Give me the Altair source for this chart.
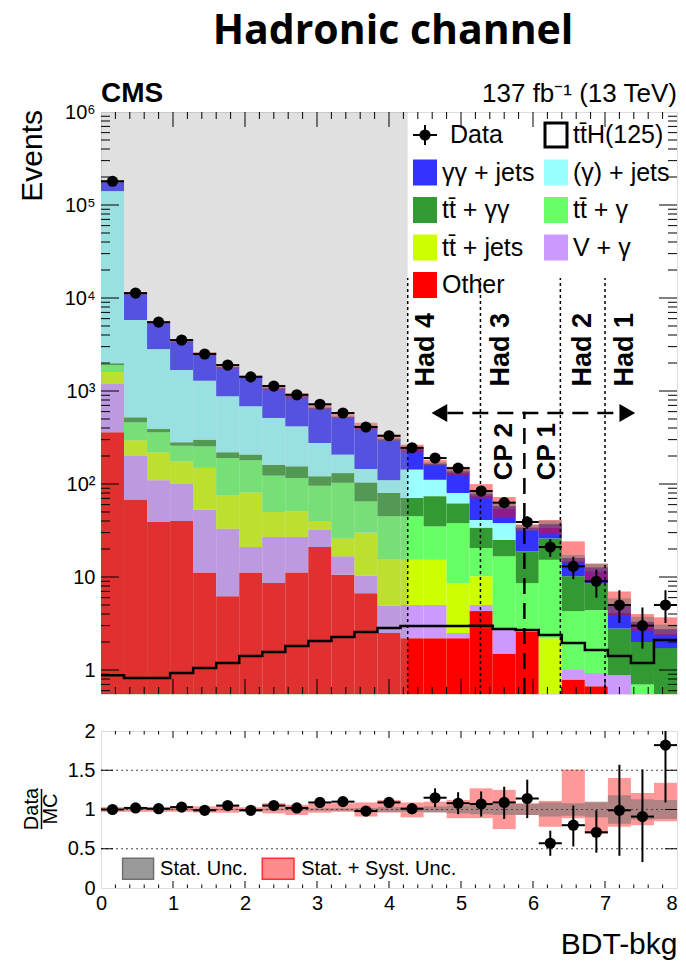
import altair as alt
import pandas as pd

# ---------------- data ----------------
bin_edges = [0.0, 0.32, 0.64, 0.96, 1.28, 1.6, 1.92, 2.24, 2.56, 2.88, 3.2, 3.52, 3.84,
             4.16, 4.48, 4.8, 5.12, 5.44, 5.76, 6.08, 6.4, 6.72, 7.04, 7.36, 7.68, 8.0]

data_events = [180000, 11300, 5500, 3530, 2500, 1900, 1420, 1130, 910, 720, 580, 410, 330,
               245, 190, 148, 84, 63, 39, 21, 13, 9, 5, 3, 5]
data_lo = [179600, 11200, 5430, 3470, 2450, 1856, 1382, 1096, 880, 693, 556, 390, 312,
           230, 176, 136, 75, 55, 33, 16.5, 9.5, 6, 3.2, 1.7, 3.2]
data_hi = [180400, 11400, 5570, 3590, 2550, 1944, 1458, 1164, 940, 747, 604, 430, 348,
           260, 204, 160, 93, 71, 45, 25.5, 16.5, 12, 7.2, 4.7, 7.2]

# background components (stacked bottom -> top)
bkg_other = [360, 68, 39, 40, 11.2, 6.2, 11.2, 8.6, 11.2, 21, 10.6, 6.7, 2.5,
             2.2, 2.2, 2.2, 4.3, 1.5, 2.6, 0, 0.79, 0.67, 0, 0, 0]
bkg_vgamma = [830, 134, 71, 60, 41.8, 26.8, 9.8, 18.4, 15.8, 11, 6.1, 3.6, 2.4,
              2.8, 2.8, 0.3, 0.7, 1.2, 0, 0, 0.21, 0.26, 0.88, 0, 0]
bkg_ttjets = [410, 93, 109, 75, 96, 42, 60, 23, 24, 8, 9.3, 19.7, 10.7,
              10.3, 10.3, 6.1, 5.2, 0, 0, 2.2, 0, 0, 0, 0, 0]
bkg_ttgamma = [300, 165, 141, 83, 105, 115, 99, 73, 65, 56, 77, 35, 29.4,
               29.7, 19.7, 29.4, 10.3, 14, 6.0, 13.1, 3.3, 3.47, 0, 0.70, 0]
bkg_ttgg = [90, 61, 30, 23, 46, 29, 27, 38, 39, 25, 28, 39, 35,
            26, 39, 24, 13.5, 8.3, 10.3, 10.7, 5.9, 4.2, 1.92, 1.3, 1.72]
bkg_gjets = [139000, 5280, 2430, 1400, 990, 658, 477, 352, 262, 155, 76, 41, 30,
             72, 37, 18, 7, 13, 0, 0, 0, 0, 0, 0, 0]
bkg_ggjets = [39000, 5300, 2630, 1750, 1235, 933, 750, 563, 475, 384, 320, 273, 193,
              100, 54, 57, 37.5, 20, 15.1, 11, 5.8, 4.1, 2.2, 1.3, 1.03]

tth_signal = [0.88, 0.82, 0.82, 0.93, 1.05, 1.19, 1.41, 1.56, 1.81, 2.05, 2.26, 2.56, 2.83,
              2.97, 2.97, 2.97, 3.0, 2.76, 2.69, 2.38, 1.95, 1.64, 1.41, 1.19, 2.1]

ratio = [1.0, 1.02, 1.01, 1.03, 0.99, 1.05, 0.99, 1.05, 1.02, 1.09, 1.10, 0.98, 1.09,
         1.01, 1.15, 1.08, 1.07, 1.09, 1.14, 0.57, 0.80, 0.71, 0.99, 0.91, 1.82]
ratio_lo = [0.99, 1.0, 0.99, 1.01, 0.97, 1.03, 0.97, 1.02, 0.99, 1.06, 1.07, 0.94, 1.03,
            0.94, 1.03, 0.94, 0.91, 0.88, 0.89, 0.41, 0.53, 0.45, 0.41, 0.33, 1.09]
ratio_hi = [1.01, 1.04, 1.03, 1.05, 1.01, 1.07, 1.01, 1.08, 1.05, 1.12, 1.13, 1.02, 1.15,
            1.08, 1.27, 1.22, 1.23, 1.29, 1.38, 0.73, 1.05, 0.99, 1.57, 1.51, 2.55]

syst_lo = [0.97, 0.97, 0.97, 0.97, 0.96, 0.96, 0.97, 0.95, 0.93, 0.96, 0.97, 0.91, 0.96,
           0.90, 0.97, 0.89, 0.89, 0.75, 0.93, 0.78, 0.89, 0.69, 0.78, 0.80, 0.85]
syst_hi = [1.03, 1.03, 1.03, 1.04, 1.04, 1.05, 1.03, 1.08, 1.06, 1.08, 1.08, 1.09, 1.12,
           1.09, 1.10, 1.12, 1.27, 1.25, 1.08, 1.11, 1.51, 1.09, 1.40, 1.21, 1.34]
stat_unc = [0.005, 0.01, 0.01, 0.01, 0.01, 0.01, 0.01, 0.01, 0.015, 0.015, 0.015, 0.02, 0.03,
            0.03, 0.04, 0.05, 0.06, 0.07, 0.07, 0.09, 0.08, 0.10, 0.18, 0.13, 0.12]

process_names = ["Other", "V + γ", "tt\u0304 + jets", "tt\u0304 + γ", "tt\u0304 + γγ",
                 "(γ) + jets", "γγ + jets"]
process_colors = ["#ff0000", "#cc99ff", "#ccff00", "#66ff66", "#339933", "#99ffff", "#3333ff"]
components = [bkg_other, bkg_vgamma, bkg_ttjets, bkg_ttgamma, bkg_ttgg, bkg_gjets, bkg_ggjets]

# category boundaries
had_bounds = [4.26, 5.27, 6.38, 7.0]
had_labels = ["Had 4", "Had 3", "Had 2", "Had 1"]
had_label_x = [4.62, 5.66, 6.80, 7.39]
cp_bound = 5.88
cp_labels = ["CP 2", "CP 1"]
cp_label_x = [5.71, 6.30]

# ---------------- layout constants ----------------
W, H, HR = 576, 582, 157
YMIN, YMAX = 0.552, 1e6
FONT = "Liberation Sans"

nb = len(data_events)
xc = [(bin_edges[i] + bin_edges[i + 1]) / 2 for i in range(nb)]

rows = []
mc_total = []
for i in range(nb):
    cum = 0.0
    for name, vals in zip(process_names, components):
        lo = cum if cum > 0 else 1e-3
        cum += vals[i]
        rows.append(dict(x0=bin_edges[i], x1=bin_edges[i + 1], y0=lo, y1=max(cum, 1e-3), proc=name))
    mc_total.append(cum)
df_stack = pd.DataFrame(rows)

df_bins = pd.DataFrame({
    "x0": bin_edges[:-1], "x1": bin_edges[1:], "xc": xc,
    "data": data_events, "dlo": data_lo, "dhi": data_hi,
    "mc": mc_total,
    "r": ratio, "rlo": ratio_lo, "rhi": ratio_hi,
    "slo": syst_lo, "shi": syst_hi, "st": stat_unc,
})
df_bins["band_lo"] = df_bins["mc"] * df_bins["slo"]
df_bins["band_hi"] = df_bins["mc"] * df_bins["shi"]
df_bins["stat_lo"] = df_bins["mc"] * (1 - df_bins["st"])
df_bins["stat_hi"] = df_bins["mc"] * (1 + df_bins["st"])
df_bins["rstat_lo"] = 1 - df_bins["st"]
df_bins["rstat_hi"] = 1 + df_bins["st"]

df_tth = pd.DataFrame({"x": bin_edges, "y": tth_signal + [tth_signal[-1]]})

xs = alt.Scale(domain=[0, 8], nice=False, zero=False)
ys = alt.Scale(type="log", domain=[YMIN, YMAX], nice=False)
y_axis = alt.Axis(values=[1, 10, 100, 1000, 1e4, 1e5, 1e6],
                  labelExpr="datum.value >= 999999 ? '10⁶' : datum.value >= 99999 ? '10⁵' : "
                            "datum.value >= 9999 ? '10⁴' : datum.value >= 999 ? '10³' : "
                            "datum.value >= 99 ? '10²' : datum.value >= 9 ? '10' : '1'",
                  labelFontSize=20, labelFont=FONT, labelColor="black", ticks=False, tickSize=0,
                  domain=False, grid=False, labelPadding=6, title=None, labelFlush=False,
                  labelOverlap=False)


def X(f):
    return alt.X(f, type="quantitative", scale=xs, axis=None)


def Y(f):
    return alt.Y(f, type="quantitative", scale=ys, axis=y_axis)


# stacked backgrounds
stack = alt.Chart(df_stack).mark_rect(clip=True).encode(
    x=X("x0"), x2="x1", y=Y("y0"), y2="y1",
    color=alt.Color("proc:N", scale=alt.Scale(domain=process_names, range=process_colors), legend=None),
)
band = alt.Chart(df_bins).mark_rect(clip=True, color="#ff0000", opacity=0.45).encode(
    x=X("x0"), x2="x1", y=Y("band_lo"), y2="band_hi")
sband = alt.Chart(df_bins).mark_rect(clip=True, color="#707070", opacity=0.5).encode(
    x=X("x0"), x2="x1", y=Y("stat_lo"), y2="stat_hi")

df_shade = pd.DataFrame({"x0": [0.0], "x1": [had_bounds[0]], "y0": [YMIN], "y1": [YMAX]})
shade = alt.Chart(df_shade).mark_rect(clip=True, color="#9c9c9c", opacity=0.31).encode(
    x=X("x0"), x2="x1", y=Y("y0"), y2="y1")

tth_line = alt.Chart(df_tth).mark_line(interpolate="step-after", color="black", strokeWidth=2.5,
                                        clip=True).encode(x=X("x"), y=Y("y"))

df_had = pd.DataFrame({"x": had_bounds, "y0": [YMIN] * 4, "y1": [16400] * 4,
                       "lab": had_labels, "lx": had_label_x, "ly": [6900] * 4})
had_lines = alt.Chart(df_had).mark_rule(color="black", strokeWidth=1.5, strokeDash=[3, 3]).encode(
    x=X("x"), y=Y("y0"), y2="y1")
had_text = alt.Chart(df_had).mark_text(angle=270, align="right", baseline="alphabetic",
                                        fontSize=27, fontWeight="bold", font=FONT, color="black").encode(
    x=X("lx"), y=Y("ly"), text="lab:N")

df_cp = pd.DataFrame({"x": [cp_bound], "y0": [YMIN], "y1": [600]})
cp_line = alt.Chart(df_cp).mark_rule(color="black", strokeWidth=2.5, strokeDash=[16, 9]).encode(
    x=X("x"), y=Y("y0"), y2="y1")
df_cpt = pd.DataFrame({"lab": cp_labels, "lx": cp_label_x, "ly": [453, 453]})
cp_text = alt.Chart(df_cpt).mark_text(angle=270, align="right", baseline="alphabetic",
                                       fontSize=26, fontWeight="bold", font=FONT, color="black").encode(
    x=X("lx"), y=Y("ly"), text="lab:N")

df_arrow = pd.DataFrame({"x0": [4.81], "x1": [7.20], "y": [580]})
arrow_line = alt.Chart(df_arrow).mark_rule(color="black", strokeWidth=2.5, strokeDash=[16, 9]).encode(
    x=X("x0"), x2="x1", y=Y("y"))
df_heads = pd.DataFrame({"x": [4.70, 7.31], "y": [580, 580], "s": ["triangle-left", "triangle-right"]})
heads = alt.Chart(df_heads).mark_point(filled=True, color="black", size=330, opacity=1).encode(
    x=X("x"), y=Y("y"), shape=alt.Shape("s:N", scale=None))

d_vbar = alt.Chart(df_bins).mark_rule(color="black", strokeWidth=2, clip=True).encode(
    x=X("xc"), y=Y("dlo"), y2="dhi")
d_hbar = alt.Chart(df_bins).mark_rule(color="black", strokeWidth=2, clip=True).encode(
    x=X("x0"), x2="x1", y=Y("data"))
d_pts = alt.Chart(df_bins).mark_circle(color="black", size=125, opacity=1).encode(
    x=X("xc"), y=Y("data"))

# ticks (ROOT style, inside the frame)
maj_y = [1, 10, 100, 1000, 1e4, 1e5]
min_y = [k * 10 ** e for e in range(-1, 6) for k in range(2, 10) if YMIN < k * 10 ** e < YMAX]
maj_x = [1, 2, 3, 4, 5, 6, 7]
min_x = [round(0.2 * i, 1) for i in range(1, 40) if i % 5 != 0]


def yticks(vals, ln, yenc, width):
    df = pd.DataFrame({"v": vals})
    a = alt.Chart(df).mark_rule(color="black", strokeWidth=1).encode(y=yenc("v"), x=alt.value(0), x2=alt.value(ln))
    b = alt.Chart(df).mark_rule(color="black", strokeWidth=1).encode(y=yenc("v"), x=alt.value(width - ln), x2=alt.value(width))
    return [a, b]


def xticks(vals, ln, xenc, height):
    df = pd.DataFrame({"v": vals})
    a = alt.Chart(df).mark_rule(color="black", strokeWidth=1).encode(x=xenc("v"), y=alt.value(height - ln), y2=alt.value(height))
    b = alt.Chart(df).mark_rule(color="black", strokeWidth=1).encode(x=xenc("v"), y=alt.value(0), y2=alt.value(ln))
    return [a, b]


main_ticks = yticks(maj_y, 18, Y, W) + yticks(min_y, 9, Y, W) + xticks(maj_x, 15, X, H) + xticks(min_x, 7, X, H)

# legend (custom, ROOT style)
leg_items = [("γγ + jets", "#3333ff", 1, 0), ("(γ) + jets", "#99ffff", 1, 1),
             ("tt\u0304 + γγ", "#339933", 2, 0), ("tt\u0304 + γ", "#66ff66", 2, 1),
             ("tt\u0304 + jets", "#ccff00", 3, 0), ("V + γ", "#cc99ff", 3, 1),
             ("Other", "#ff0000", 4, 0)]
LX0, LDX, LY0, LDY = 312, 131, 23, 37.5
df_leg = pd.DataFrame([dict(lab=l, col=c, r=r, k=k) for (l, c, r, k) in leg_items])
df_leg["bx0"] = LX0 + df_leg["k"] * LDX
df_leg["bx1"] = df_leg["bx0"] + 24
df_leg["by0"] = LY0 + df_leg["r"] * LDY - 13
df_leg["by1"] = df_leg["by0"] + 26
df_leg["tx"] = df_leg["bx0"] + 29
df_leg["ty"] = LY0 + df_leg["r"] * LDY
leg_boxes = alt.Chart(df_leg).mark_rect().encode(
    x=alt.X("bx0:Q", scale=None), x2="bx1", y=alt.Y("by0:Q", scale=None), y2="by1",
    color=alt.Color("col:N", scale=None))
leg_text = alt.Chart(df_leg).mark_text(align="left", baseline="middle", fontSize=25, font=FONT,
                                        color="black").encode(
    x=alt.X("tx:Q", scale=None), y=alt.Y("ty:Q", scale=None), text="lab:N")

df_one = pd.DataFrame({"t": ["Data"]})
leg_data_pt = alt.Chart(df_one).mark_circle(color="black", size=125, opacity=1).encode(
    x=alt.value(LX0 + 12), y=alt.value(LY0))
leg_data_h = alt.Chart(df_one).mark_rule(color="black", strokeWidth=2).encode(
    x=alt.value(LX0), x2=alt.value(LX0 + 24), y=alt.value(LY0))
leg_data_v = alt.Chart(df_one).mark_rule(color="black", strokeWidth=2).encode(
    x=alt.value(LX0 + 12), y=alt.value(LY0 - 10), y2=alt.value(LY0 + 10))
leg_data_t = alt.Chart(df_one).mark_text(align="left", baseline="middle", fontSize=25, font=FONT,
                                          color="black").encode(
    x=alt.value(LX0 + 37), y=alt.value(LY0), text="t:N")
leg_tth_box = alt.Chart(df_one).mark_rect(fill="white", stroke="black", strokeWidth=3).encode(
    x=alt.value(LX0 + LDX + 1), x2=alt.value(LX0 + LDX + 23), y=alt.value(LY0 - 12), y2=alt.value(LY0 + 12))
leg_tth_t = alt.Chart(pd.DataFrame({"t": ["tt\u0304H(125)"]})).mark_text(
    align="left", baseline="middle", fontSize=25, font=FONT, color="black").encode(
    x=alt.value(LX0 + LDX + 29), y=alt.value(LY0), text="t:N")

# texts around the frame
title_t = alt.Chart(pd.DataFrame({"t": ["Hadronic channel"]})).mark_text(
    align="center", baseline="top", fontSize=41, fontWeight="bold", font="Open Sans", color="black").encode(
    x=alt.value(292), y=alt.value(-100), text="t:N")
cms_t = alt.Chart(pd.DataFrame({"t": ["CMS"]})).mark_text(
    align="left", baseline="alphabetic", fontSize=28, fontWeight="bold", font=FONT, color="black").encode(
    x=alt.value(0), y=alt.value(-10), text="t:N")
lumi_t = alt.Chart(pd.DataFrame({"t": ["137 fb⁻¹ (13 TeV)"]})).mark_text(
    align="right", baseline="alphabetic", fontSize=26, font=FONT, color="black").encode(
    x=alt.value(W), y=alt.value(-10), text="t:N")
events_t = alt.Chart(pd.DataFrame({"t": ["Events"]})).mark_text(
    align="right", baseline="middle", angle=270, fontSize=30, font=FONT, color="black").encode(
    x=alt.value(-68), y=alt.value(-2), text="t:N")

main = alt.layer(
    stack, band, sband, shade, tth_line, had_lines, cp_line, arrow_line, heads,
    had_text, cp_text, d_vbar, d_hbar, d_pts,
    *main_ticks,
    leg_boxes, leg_text, leg_data_h, leg_data_v, leg_data_pt, leg_data_t, leg_tth_box, leg_tth_t,
    title_t, cms_t, lumi_t, events_t,
).properties(width=W, height=H)

# ---------------- ratio panel ----------------
rs = alt.Scale(domain=[0, 2], nice=False, zero=False)
r_axis = alt.Axis(values=[0, 0.5, 1, 1.5, 2], format="~g", labelFontSize=20, labelFont=FONT,
                  labelColor="black", ticks=False, tickSize=0, domain=False, grid=False,
                  labelPadding=6, title=None, labelFlush=False, labelOverlap=False)
rx_axis = alt.Axis(values=[0, 1, 2, 3, 4, 5, 6, 7, 8], format="d", labelFontSize=20, labelFont=FONT,
                   labelColor="black", ticks=False, tickSize=0, domain=False, grid=False,
                   labelPadding=5, labelFlush=False, labelOverlap=False,
                   labelAlign={"condition": {"test": "datum.value >= 8", "value": "right"}, "value": "center"},
                   title="BDT-bkg", titleFont=FONT, titleFontSize=30, titleFontWeight="normal",
                   titleColor="black", titleAnchor="end", titlePadding=16)


def RX(f):
    return alt.X(f, type="quantitative", scale=xs, axis=rx_axis)


def RY(f):
    return alt.Y(f, type="quantitative", scale=rs, axis=r_axis)


r_band = alt.Chart(df_bins).mark_rect(clip=True, color="#ff0000", opacity=0.4).encode(
    x=RX("x0"), x2="x1", y=RY("slo"), y2="shi")
r_sband = alt.Chart(df_bins).mark_rect(clip=True, color="#707070", opacity=0.55).encode(
    x=RX("x0"), x2="x1", y=RY("rstat_lo"), y2="rstat_hi")
df_grid = pd.DataFrame({"v": [0.5, 1.0, 1.5]})
r_grid = alt.Chart(df_grid).mark_rule(color="#444444", strokeWidth=1, strokeDash=[2, 3]).encode(
    y=RY("v"), x=alt.value(0), x2=alt.value(W))
r_vbar = alt.Chart(df_bins).mark_rule(color="black", strokeWidth=2, clip=True).encode(
    x=RX("xc"), y=RY("rlo"), y2="rhi")
r_hbar = alt.Chart(df_bins).mark_rule(color="black", strokeWidth=2, clip=True).encode(
    x=RX("x0"), x2="x1", y=RY("r"))
r_pts = alt.Chart(df_bins).mark_circle(color="black", size=125, opacity=1).encode(
    x=RX("xc"), y=RY("r"))

rleg = pd.DataFrame({"x0": [0.30, 2.24], "x1": [0.73, 2.68], "y0": [0.11, 0.11], "y1": [0.38, 0.38],
                     "tx": [0.82, 2.78], "ty": [0.245, 0.245],
                     "lab": ["Stat. Unc.", "Stat. + Syst. Unc."],
                     "fill": ["#9a9a9a", "#ff8c8c"], "st": ["#707070", "#ff3030"]})
r_leg_box = alt.Chart(rleg).mark_rect(strokeWidth=1.5).encode(
    x=RX("x0"), x2="x1", y=RY("y0"), y2="y1",
    fill=alt.Fill("fill:N", scale=None), stroke=alt.Stroke("st:N", scale=None))
r_leg_t = alt.Chart(rleg).mark_text(align="left", baseline="middle", fontSize=20, font=FONT,
                                     color="black").encode(x=RX("tx"), y=RY("ty"), text="lab:N")

r_ticks = yticks([0.5, 1.0, 1.5], 12, RY, W) + xticks(maj_x, 7, RX, HR) + xticks(min_x, 3.5, RX, HR)

dm = pd.DataFrame({"t": ["Data", "MC"], "px": [-69, -50]})
r_datamc = alt.Chart(dm).mark_text(angle=270, align="center", baseline="middle", fontSize=20,
                                   font=FONT, color="black").encode(
    x=alt.X("px:Q", scale=None), y=alt.value(78), text="t:N")
r_frac = alt.Chart(df_one).mark_rule(color="black", strokeWidth=1.5).encode(
    x=alt.value(-59.5), y=alt.value(58), y2=alt.value(98))

ratio_panel = alt.layer(
    r_band, r_sband, r_grid, r_vbar, r_hbar, r_pts, r_leg_box, r_leg_t, *r_ticks, r_datamc, r_frac
).properties(width=W, height=HR)

chart = alt.vconcat(main, ratio_panel, spacing=24).properties(
    padding={"left": 9, "top": 2, "right": 0, "bottom": 0}
).configure_view(stroke="black", strokeWidth=1.2).configure(font=FONT)

chart.save("out.html", embed_options={"renderer": "svg", "actions": False})
